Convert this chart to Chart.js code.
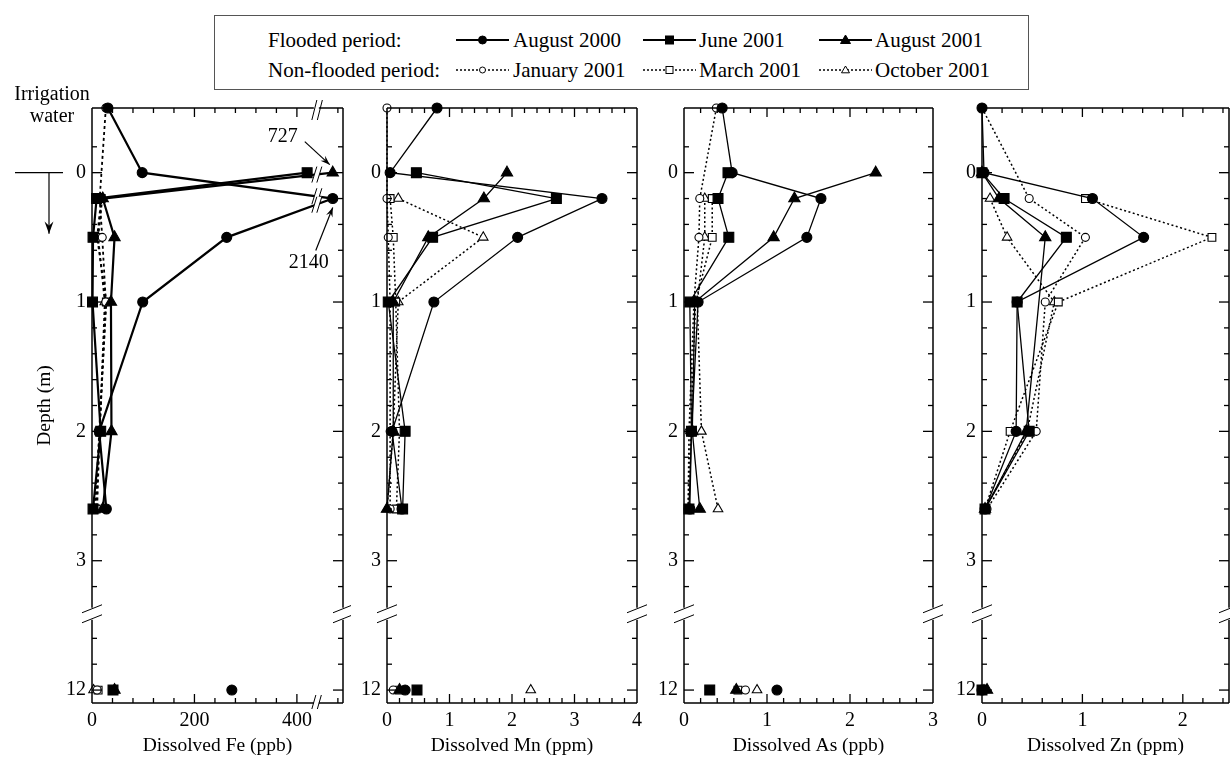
<!DOCTYPE html>
<html>
<head>
<meta charset="utf-8">
<script src="https://cdn.jsdelivr.net/npm/chart.js@4.4.1/dist/chart.umd.min.js"></script>
<style>
  html, body { margin: 0; padding: 0; background: #fff; overflow: hidden; }
  #wrap { position: relative; width: 1230px; height: 759px; overflow: hidden; }
  #wrap canvas { position: absolute; }
  #legend { position: absolute; left: 214px; top: 15px; width: 813px; height: 73px;
            border: 1px solid #555; font-family: 'Liberation Serif', serif; font-size: 21px; color: #000; }
  #legend .t { position: absolute; white-space: nowrap; line-height: 24px; height: 24px; }
  #legend svg { position: absolute; }
</style>
</head>
<body>
<div id="wrap">
  <div id="legend"></div>
  <canvas id="fe"></canvas>
  <canvas id="mn"></canvas>
  <canvas id="as"></canvas>
  <canvas id="zn"></canvas>
</div>
<script>
// sampling depths (m); 'IW' = irrigation water
const depths = ['IW', 0, 0.2, 0.5, 1, 2, 2.6, 12];
const seriesNames = ['August 2000', 'June 2001', 'August 2001', 'January 2001', 'March 2001', 'October 2001'];
const groupNames = ['Flooded period:', 'Non-flooded period:'];

// Fe (ppb)
const feAug2000 = [31, 98, 2140, 263, 99, 14, 28, 273];
const feJun2001 = [null, 420, 9, 2, 1, 17, 2, 41];
const feAug2001 = [null, 727, 21, 44, 37, 38, 21, 44];
const feJan2001 = [27, null, 15, 20, 27, 15, 10, 10];
const feMar2001 = [null, null, 18, 10, 28, 14, 8, 12];
const feOct2001 = [null, null, 20, 12, 25, 15, 5, 3];

// Mn (ppm)
const mnAug2000 = [0.80, 0.05, 3.44, 2.09, 0.75, 0.08, 0.24, 0.29];
const mnJun2001 = [null, 0.47, 2.71, 0.73, 0.02, 0.29, 0.25, 0.48];
const mnAug2001 = [null, 1.92, 1.55, 0.66, 0.10, 0.10, 0.00, 0.20];
const mnJan2001 = [0.00, null, 0.00, 0.02, 0.05, 0.05, 0.05, 0.10];
const mnMar2001 = [null, null, 0.05, 0.10, 0.14, 0.20, 0.15, 0.20];
const mnOct2001 = [null, null, 0.18, 1.54, 0.18, 0.10, 0.00, 2.30];

// As (ppb)
const asAug2000 = [0.46, 0.58, 1.65, 1.48, 0.17, 0.09, 0.07, 1.12];
const asJun2001 = [null, 0.53, 0.41, 0.54, 0.07, 0.09, 0.06, 0.31];
const asAug2001 = [null, 2.31, 1.33, 1.08, 0.13, 0.10, 0.19, 0.63];
const asJan2001 = [0.39, null, 0.19, 0.18, 0.12, 0.06, 0.05, 0.74];
const asMar2001 = [null, null, 0.34, 0.34, 0.14, 0.08, 0.05, 0.65];
const asOct2001 = [null, null, 0.25, 0.25, 0.16, 0.21, 0.41, 0.88];

// Zn (ppm)
const znAug2000 = [0.00, 0.02, 1.10, 1.61, 0.35, 0.34, 0.03, 0.00];
const znJun2001 = [null, 0.00, 0.22, 0.84, 0.35, 0.47, 0.03, 0.00];
const znAug2001 = [null, 0.00, 0.17, 0.63, null, 0.44, 0.03, 0.05];
const znJan2001 = [0.00, null, 0.47, 1.03, 0.63, 0.54, 0.05, 0.00];
const znMar2001 = [null, null, 1.03, 2.29, 0.76, 0.28, 0.03, 0.00];
const znOct2001 = [null, null, 0.08, 0.25, 0.72, 0.45, 0.03, 0.02];

const FONT = "'Liberation Serif', serif";
const markers = [
  { shape: 'circle', open: false, r: 5 },
  { shape: 'rect', open: false, r: 7 },
  { shape: 'triangle', open: false, r: 6.5 },
  { shape: 'circle', open: true, r: 4 },
  { shape: 'rect', open: true, r: 5.5 },
  { shape: 'triangle', open: true, r: 5.5 }
];

const panels = [
  { id: 'fe', left: 92, right: 343, min: 0, max: 490, major: [0, 200, 400], minor: 40,
    title: 'Dissolved Fe (ppb)', lw: 2.2, dotW: 1.8, dash: [3, 3], xBreak: 437, showAt: 470,
    values: [feAug2000, feJun2001, feAug2001, feJan2001, feMar2001, feOct2001] },
  { id: 'mn', left: 387, right: 640, min: 0, max: 4, major: [0, 1, 2, 3, 4], minor: 0.2,
    title: 'Dissolved Mn (ppm)', lw: 1.3, dotW: 1.5, dash: [2, 2.5],
    values: [mnAug2000, mnJun2001, mnAug2001, mnJan2001, mnMar2001, mnOct2001] },
  { id: 'as', left: 684, right: 936, min: 0, max: 3, major: [0, 1, 2, 3], minor: 0.2,
    title: 'Dissolved As (ppb)', lw: 1.3, dotW: 1.5, dash: [2, 2.5],
    values: [asAug2000, asJun2001, asAug2001, asJan2001, asMar2001, asOct2001] },
  { id: 'zn', left: 982, right: 1229, min: 0, max: 2.46, major: [0, 1, 2], minor: 0.2,
    title: 'Dissolved Zn (ppm)', lw: 1.3, dotW: 1.5, dash: [2, 2.5],
    values: [znAug2000, znJun2001, znAug2001, znJan2001, znMar2001, znOct2001] }
];

// depth -> position on the broken depth axis
function depthPos(d) {
  if (d === 'IW') return -0.5;
  if (d === 12) return 4;
  return d;
}

function buildSets(p) {
  const sets = [];
  p.values.forEach((vals, i) => {
    const m = markers[i];
    const prof = [], deep = [];
    depths.forEach((d, j) => {
      const v = vals[j];
      if (v == null) return;
      const x = p.showAt && v > p.xBreak ? p.showAt : v;
      (d === 12 ? deep : prof).push({ x, y: depthPos(d) });
    });
    const base = {
      borderColor: '#000',
      borderWidth: m.open ? p.dotW : p.lw,
      borderDash: m.open ? p.dash : [],
      pointStyle: m.shape,
      pointRadius: m.r,
      pointHoverRadius: m.r,
      pointBackgroundColor: m.open ? '#fff' : '#000',
      pointBorderColor: '#000',
      pointBorderWidth: 1.1,
      tension: 0,
      clip: false
    };
    sets.push(Object.assign({}, base, { data: prof, showLine: true, profile: true, series: i }));
    sets.push(Object.assign({}, base, { data: deep, showLine: false, profile: false, series: i }));
  });
  return sets;
}

function line(ctx, x1, y1, x2, y2) {
  ctx.beginPath(); ctx.moveTo(x1, y1); ctx.lineTo(x2, y2); ctx.stroke();
}

function arrow(ctx, x1, y1, x2, y2, head) {
  line(ctx, x1, y1, x2, y2);
  const a = Math.atan2(y2 - y1, x2 - x1);
  ctx.beginPath();
  ctx.moveTo(x2, y2);
  ctx.lineTo(x2 - head * Math.cos(a - 0.35), y2 - head * Math.sin(a - 0.35));
  ctx.lineTo(x2 - head * 0.6 * Math.cos(a), y2 - head * 0.6 * Math.sin(a));
  ctx.lineTo(x2 - head * Math.cos(a + 0.35), y2 - head * Math.sin(a + 0.35));
  ctx.closePath();
  ctx.fill();
}

function framePlugin(p) {
  return {
    id: 'frame' + p.id,
    afterDatasetsDraw(chart) {
      const { ctx, chartArea: a, scales: { x, y } } = chart;
      ctx.save();
      ctx.strokeStyle = '#000';
      ctx.fillStyle = '#000';
      ctx.lineWidth = 1.5;
      ctx.setLineDash([]);

      const yb = y.getPixelForValue(3.41);
      const xb = p.xBreak ? x.getPixelForValue(p.xBreak) : null;

      // data lines crossing the Fe value break
      if (xb !== null) {
        chart.data.datasets.forEach((ds, di) => {
          if (!ds.profile) return;
          const pts = chart.getDatasetMeta(di).data;
          for (let k = 1; k < pts.length; k++) {
            const e1 = pts[k - 1], e2 = pts[k];
            if ((e1.x - xb) * (e2.x - xb) >= 0) continue;
            const t = (xb - e1.x) / (e2.x - e1.x);
            const yy = e1.y + t * (e2.y - e1.y);
            ctx.fillStyle = '#fff';
            ctx.beginPath();
            ctx.moveTo(xb - 4, yy + 8); ctx.lineTo(xb + 1, yy - 8);
            ctx.lineTo(xb + 6, yy - 8); ctx.lineTo(xb + 1, yy + 8);
            ctx.closePath(); ctx.fill();
            ctx.lineWidth = 1;
            line(ctx, xb - 4, yy + 8, xb + 1, yy - 8);
            line(ctx, xb + 1, yy + 8, xb + 6, yy - 8);
            ctx.lineWidth = 1.5;
          }
        });
        ctx.fillStyle = '#000';
      }

      // frame with depth-axis break
      [a.left, a.right].forEach(xx => {
        line(ctx, xx, a.top, xx, yb - 6);
        line(ctx, xx, yb + 6, xx, a.bottom);
      });
      [a.top, a.bottom].forEach(yy => {
        if (xb !== null) {
          line(ctx, a.left, yy, xb - 2, yy);
          line(ctx, xb + 3, yy, a.right, yy);
        } else {
          line(ctx, a.left, yy, a.right, yy);
        }
      });

      ctx.lineWidth = 1;
      // depth-axis break slashes
      [a.left, a.right].forEach(xx => {
        line(ctx, xx - 10, yb - 1, xx + 10, yb - 9);
        line(ctx, xx - 10, yb + 9, xx + 10, yb + 1);
      });
      // value-axis break slashes (Fe)
      if (xb !== null) {
        line(ctx, xb - 4, a.top + 12, xb + 1, a.top - 8);
        line(ctx, xb + 1.5, a.top + 12, xb + 6.5, a.top - 8);
        line(ctx, xb - 4, a.bottom + 6, xb, a.bottom - 8);
        line(ctx, xb + 1.5, a.bottom + 6, xb + 5.5, a.bottom - 8);
      }

      // inward ticks
      ctx.lineWidth = 1.3;
      const n = Math.round((p.max - p.min) / p.minor);
      for (let k = 0; k <= n; k++) {
        const v = p.min + k * p.minor;
        const px = x.getPixelForValue(v);
        if (px <= a.left + 1 || px >= a.right - 1) continue;
        if (xb !== null && Math.abs(px - xb) < 8) continue;
        const isMajor = p.major.some(m => Math.abs(m - v) < 1e-6);
        const len = isMajor ? 9 : 5;
        line(ctx, px, a.bottom, px, a.bottom - len);
        line(ctx, px, a.top, px, a.top + len);
      }
      const yMinor = [-0.2, 3.6, 3.8];
      for (let k = 1; k <= 16; k++) if (k % 5) yMinor.push(k * 0.2);
      const yMajor = [0, 1, 2, 3, 4];
      yMinor.forEach(v => {
        const py = y.getPixelForValue(v);
        line(ctx, a.left, py, a.left + 5, py);
        line(ctx, a.right, py, a.right - 5, py);
      });
      yMajor.forEach(v => {
        const py = y.getPixelForValue(v);
        line(ctx, a.left, py, a.left + 10, py);
        line(ctx, a.right, py, a.right - 10, py);
      });

      // off-scale annotations and the irrigation-water key (Fe only)
      if (p.id === 'fe') {
        ctx.font = '20px ' + FONT;
        ctx.textAlign = 'center';
        ctx.textBaseline = 'middle';
        ctx.lineWidth = 1.2;
        const notes = [
          { series: 2, depth: 0, tdx: -50, tdy: -36, ax: -28, ay: -31, bx: -3, by: -8 },
          { series: 0, depth: 0.2, tdx: -24, tdy: 64, ax: -17, ay: 52, bx: 0, by: 9 }
        ];
        notes.forEach(nt => {
          const vals = p.values[nt.series];
          const j = depths.indexOf(nt.depth);
          const px = x.getPixelForValue(p.showAt);
          const py = y.getPixelForValue(depthPos(nt.depth));
          ctx.fillText(String(vals[j]), px + nt.tdx, py + nt.tdy);
          arrow(ctx, px + nt.ax, py + nt.ay, px + nt.bx, py + nt.by, 10);
        });

        const y0 = y.getPixelForValue(0);
        const yIW = y.getPixelForValue(-0.5);
        ctx.fillText('Irrigation', 52, yIW - 13);
        ctx.fillText('water', 52, yIW + 9);
        line(ctx, 15, y0, 63, y0);
        arrow(ctx, 49, y0, 49, y0 + 61, 13);
      }
      ctx.restore();
    }
  };
}

const TOP = 80, PLOT_TOP = 108, PLOT_BOTTOM = 703, H = 759 - TOP, PAD_R = 8, X_H = 759 - PLOT_BOTTOM;

panels.forEach(p => {
  const cv = document.getElementById(p.id);
  const yW = p.id === 'fe' ? p.left : 45;
  cv.width = p.right - p.left + yW + PAD_R;
  cv.height = H;
  cv.style.left = (p.left - yW) + 'px';
  cv.style.top = TOP + 'px';

  new Chart(cv, {
    type: 'scatter',
    data: { datasets: buildSets(p) },
    options: {
      responsive: false,
      animation: false,
      devicePixelRatio: 1,
      events: [],
      layout: { autoPadding: false, padding: { top: PLOT_TOP - TOP, right: PAD_R, left: 0, bottom: 0 } },
      plugins: { legend: { display: false }, tooltip: { enabled: false } },
      scales: {
        x: {
          type: 'linear', min: p.min, max: p.max,
          afterBuildTicks: s => { s.ticks = p.major.map(v => ({ value: v })); },
          afterFit: s => { s.height = X_H; },
          grid: { display: false, drawTicks: false },
          border: { display: false },
          ticks: { color: '#000', padding: 6, font: { family: FONT, size: 20 }, callback: v => String(v) },
          title: { display: true, text: p.title, color: '#000', font: { family: FONT, size: 19.5 },
                   padding: { top: 0, bottom: 1 } }
        },
        y: {
          type: 'linear', reverse: true, min: -0.5, max: 4.1,
          afterBuildTicks: s => { s.ticks = [0, 1, 2, 3, 4].map(v => ({ value: v })); },
          afterFit: s => { s.width = yW; },
          grid: { display: false, drawTicks: false },
          border: { display: false },
          ticks: { color: '#000', padding: 6, font: { family: FONT, size: 20 },
                   callback: v => (v === 4 ? '12' : String(v)) },
          title: { display: p.id === 'fe', text: 'Depth (m)', color: '#000',
                   font: { family: FONT, size: 19.5 }, padding: { top: 33, bottom: 0 } }
        }
      }
    },
    plugins: [framePlugin(p)]
  });
});

// legend box
const leg = document.getElementById('legend');
const rowY = [23.5, 53.6];
const sampleX = [241, 428, 604];
const textX = [298, 484, 660];
groupNames.forEach((g, r) => {
  const d = document.createElement('div');
  d.className = 't';
  d.style.left = '53px';
  d.style.top = (rowY[r] - 12) + 'px';
  d.textContent = g;
  leg.appendChild(d);
});
seriesNames.forEach((name, i) => {
  const m = markers[i];
  const r = i < 3 ? 0 : 1, c = i % 3;
  const fill = m.open ? '#fff' : '#000';
  let mk;
  if (m.shape === 'circle') mk = `<circle cx="26.5" cy="12" r="${m.open ? 3 : 4}" fill="${fill}" stroke="#000" stroke-width="1"/>`;
  else if (m.shape === 'rect') { const s = m.open ? 7 : 8; mk = `<rect x="${26.5 - s / 2}" y="${12 - s / 2}" width="${s}" height="${s}" fill="${fill}" stroke="#000" stroke-width="1"/>`; }
  else { const s = m.open ? 4 : 5; mk = `<polygon points="26.5,${12 - s} ${26.5 + s},${12 + s * 0.7} ${26.5 - s},${12 + s * 0.7}" fill="${fill}" stroke="#000" stroke-width="1"/>`; }
  const ln = m.open
    ? `<line x1="0" y1="12" x2="53" y2="12" stroke="#000" stroke-width="1.6" stroke-dasharray="2,2"/>`
    : `<line x1="0" y1="12" x2="53" y2="12" stroke="#000" stroke-width="2"/>`;
  const svg = document.createElementNS('http://www.w3.org/2000/svg', 'svg');
  svg.setAttribute('width', '53'); svg.setAttribute('height', '24');
  svg.style.left = sampleX[c] + 'px';
  svg.style.top = (rowY[r] - 12) + 'px';
  svg.innerHTML = ln + mk;
  leg.appendChild(svg);
  const t = document.createElement('div');
  t.className = 't';
  t.style.left = textX[c] + 'px';
  t.style.top = (rowY[r] - 12) + 'px';
  t.textContent = name;
  leg.appendChild(t);
});
</script>
</body>
</html>
